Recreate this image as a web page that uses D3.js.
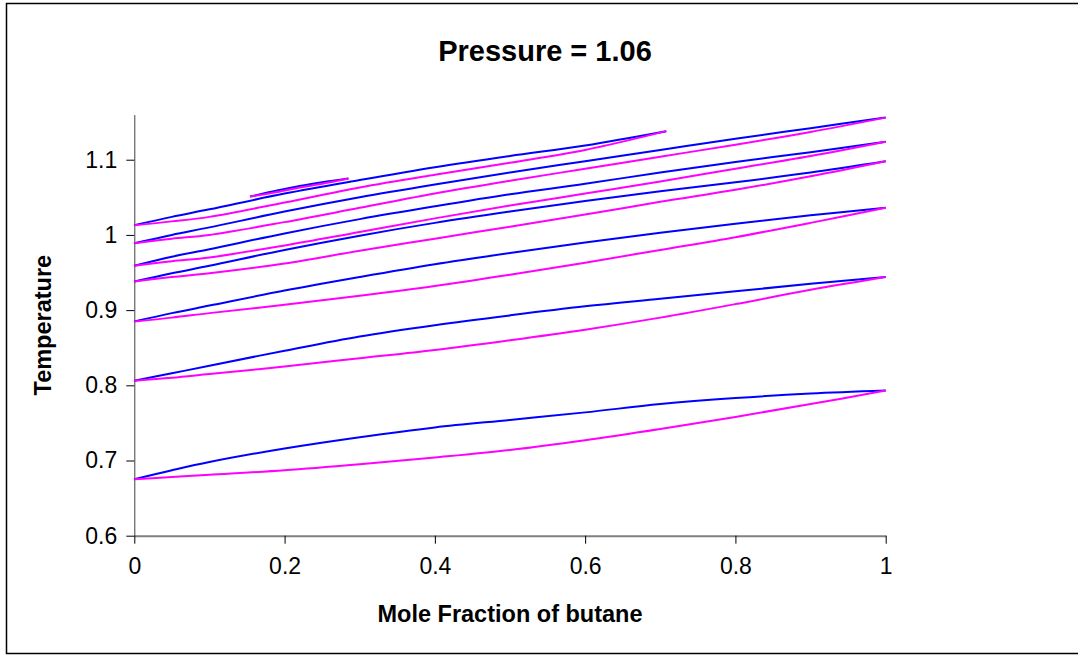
<!DOCTYPE html>
<html>
<head>
<meta charset="utf-8">
<script src="https://cdn.jsdelivr.net/npm/d3@7"></script>
<style>
  html, body { margin: 0; padding: 0; background: #fff; }
  svg { display: block; font-family: "Liberation Sans", Arial, sans-serif; }
</style>
</head>
<body>
<svg id="chart" width="1078" height="655"></svg>
<script>
/* ------------------ data ------------------ */

const title = "Pressure = 1.06";
const xTitle = "Mole Fraction of butane";
const yTitle = "Temperature";

const xTicks = [0, 0.2, 0.4, 0.6, 0.8, 1];
const yTicks = [0.6, 0.7, 0.8, 0.9, 1.0, 1.1];

// shared composition grid
const xGrid = [0, 0.05, 0.1, 0.2, 0.3, 0.4, 0.5, 0.6, 0.7, 0.8, 0.9, 1];

// blue (upper) and magenta (lower) curves, one pair per temperature loop
const blue1 = [0.675, 0.687, 0.698, 0.716, 0.731, 0.744, 0.754, 0.764, 0.775, 0.783, 0.789, 0.793];
const pink1 = [0.675, 0.678, 0.681, 0.687, 0.695, 0.704, 0.714, 0.727, 0.742, 0.758, 0.775, 0.793];

const blue2 = [0.806, 0.816, 0.826, 0.846, 0.865, 0.880, 0.893, 0.905, 0.915, 0.925, 0.935, 0.944];
const pink2 = [0.806, 0.810, 0.815, 0.825, 0.836, 0.847, 0.860, 0.874, 0.890, 0.908, 0.927, 0.944];

const blue3 = [0.885, 0.896, 0.906, 0.926, 0.944, 0.961, 0.976, 0.990, 1.003, 1.015, 1.026, 1.036];
const pink3 = [0.885, 0.890, 0.896, 0.907, 0.919, 0.932, 0.947, 0.963, 0.980, 0.997, 1.016, 1.036];

const blue4 = [0.938, 0.949, 0.959, 0.980, 0.999, 1.016, 1.031, 1.045, 1.058, 1.070, 1.083, 1.098];
const pink4 = [0.938, 0.944, 0.949, 0.962, 0.979, 0.995, 1.011, 1.027, 1.044, 1.060, 1.078, 1.098];

const blue5 = [0.959, 0.971, 0.981, 1.002, 1.021, 1.038, 1.054, 1.068, 1.083, 1.097, 1.110, 1.124];
const pink5 = [0.959, 0.965, 0.970, 0.986, 1.004, 1.022, 1.039, 1.055, 1.071, 1.088, 1.105, 1.124];

const blue6 = [0.989, 1.000, 1.010, 1.031, 1.050, 1.067, 1.083, 1.098, 1.113, 1.128, 1.142, 1.156];
const pink6 = [0.989, 0.995, 1.000, 1.017, 1.036, 1.055, 1.072, 1.088, 1.104, 1.120, 1.137, 1.156];

// loop that closes before pure butane
const xTop = [0, 0.05, 0.1, 0.2, 0.3, 0.4, 0.5, 0.6, 0.708];
const blue7 = [1.013, 1.024, 1.034, 1.055, 1.073, 1.090, 1.105, 1.119, 1.138];
const pink7 = [1.013, 1.018, 1.024, 1.043, 1.063, 1.080, 1.096, 1.113, 1.138];

// small loop
const xSmall = [0.154, 0.19, 0.22, 0.25, 0.285];
const blue8 = [1.051, 1.059, 1.065, 1.070, 1.075];
const pink8 = [1.051, 1.057, 1.063, 1.068, 1.075];

/* ------------------ constants ------------------ */

const WIDTH = 1078;
const HEIGHT = 655;
const PLOT = { left: 134.3, right: 885.7, top: 114.6, bottom: 535.7 };
const BLUE = "#0000ff";
const PINK = "#ff00ff";

const series = [
  { x: xGrid, y: blue1, color: BLUE }, { x: xGrid, y: pink1, color: PINK },
  { x: xGrid, y: blue2, color: BLUE }, { x: xGrid, y: pink2, color: PINK },
  { x: xGrid, y: blue3, color: BLUE }, { x: xGrid, y: pink3, color: PINK },
  { x: xGrid, y: blue4, color: BLUE }, { x: xGrid, y: pink4, color: PINK },
  { x: xGrid, y: blue5, color: BLUE }, { x: xGrid, y: pink5, color: PINK },
  { x: xGrid, y: blue6, color: BLUE }, { x: xGrid, y: pink6, color: PINK },
  { x: xTop, y: blue7, color: BLUE }, { x: xTop, y: pink7, color: PINK },
  { x: xSmall, y: blue8, color: BLUE }, { x: xSmall, y: pink8, color: PINK }
];

/* ------------------ render ------------------ */

const svg = d3.select("#chart");

// outer frame
svg.append("rect")
  .attr("x", 6.5).attr("y", 3.5)
  .attr("width", WIDTH).attr("height", 650)
  .attr("fill", "#fff")
  .attr("stroke", "#000")
  .attr("stroke-width", 1.5);

const x = d3.scaleLinear().domain([0, 1]).range([PLOT.left, PLOT.right]);
const y = d3.scaleLinear().domain([0.6, 1.16]).range([PLOT.bottom, PLOT.top]);

/* ---- axes ---- */

const fmt = d => String(+d.toFixed(1));

const xAxis = svg.append("g")
  .attr("transform", `translate(0,${PLOT.bottom})`)
  .call(d3.axisBottom(x).tickValues(xTicks).tickSize(8).tickSizeOuter(0).tickPadding(14).tickFormat(fmt));

const yAxis = svg.append("g")
  .attr("transform", `translate(${PLOT.left},0)`)
  .call(d3.axisLeft(y).tickValues(yTicks).tickSize(8).tickSizeOuter(0).tickPadding(9).tickFormat(fmt));

[xAxis, yAxis].forEach(g => {
  g.selectAll("text")
    .attr("font-family", "Liberation Sans, Arial, sans-serif")
    .attr("font-size", 23)
    .attr("fill", "#000");
  g.selectAll(".tick line").attr("stroke", "#000");
});
xAxis.select(".domain").attr("stroke", "#808080").attr("stroke-width", 2);
yAxis.select(".domain").attr("stroke", "#404040").attr("stroke-width", 1);

/* ---- curves ---- */

const line = d3.line()
  .x(d => x(d[0]))
  .y(d => y(d[1]))
  .curve(d3.curveCatmullRom.alpha(0.5));

svg.append("g")
  .selectAll("path")
  .data(series)
  .join("path")
  .attr("d", s => line(s.x.map((v, i) => [v, s.y[i]])))
  .attr("fill", "none")
  .attr("stroke", s => s.color)
  .attr("stroke-width", 2);

/* ---- titles ---- */

svg.append("text")
  .attr("x", 545).attr("y", 61)
  .attr("text-anchor", "middle")
  .attr("font-size", 29).attr("font-weight", "bold")
  .text(title);

svg.append("text")
  .attr("x", 510).attr("y", 622)
  .attr("text-anchor", "middle")
  .attr("font-size", 23.5).attr("font-weight", "bold")
  .text(xTitle);

svg.append("text")
  .attr("transform", `translate(51,${(PLOT.top + PLOT.bottom) / 2}) rotate(-90)`)
  .attr("text-anchor", "middle")
  .attr("font-size", 23.5).attr("font-weight", "bold")
  .text(yTitle);
</script>
</body>
</html>
